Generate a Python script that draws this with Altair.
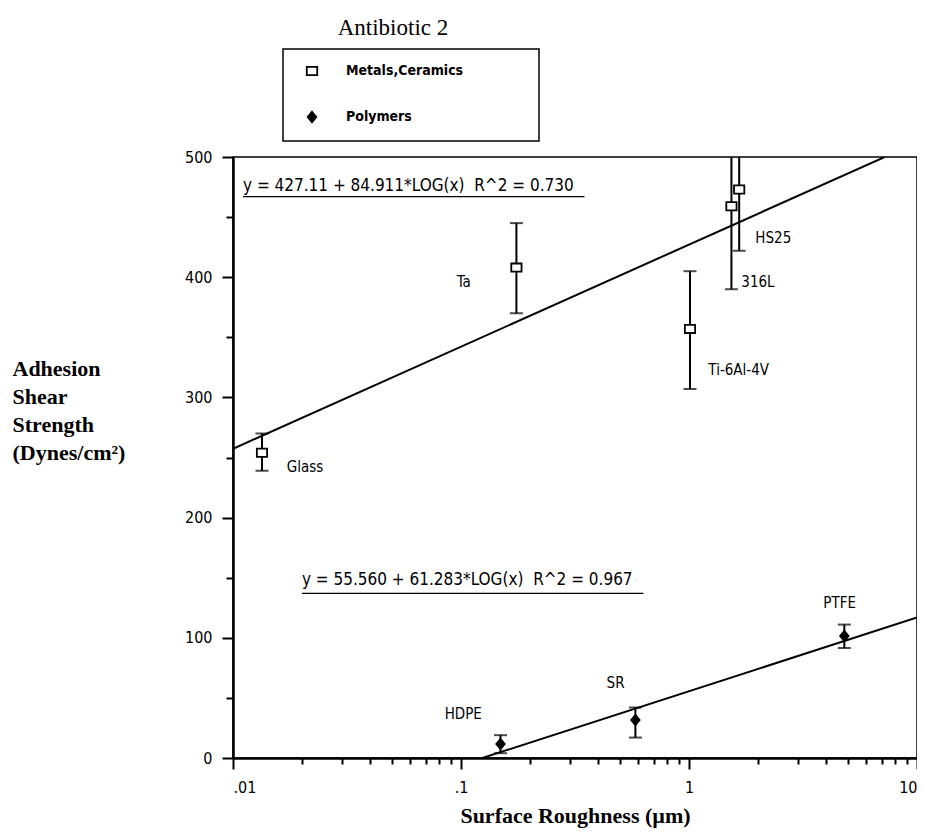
import altair as alt
import pandas as pd
import math

# ---------------- data ----------------
metal_names = ["Glass", "Ta", "Ti-6Al-4V", "316L", "HS25"]
metal_x = [0.0134, 0.175, 1.01, 1.535, 1.66]
metal_y = [254, 408, 357, 459, 473]
metal_lo = [239, 370, 307, 390, 422]
metal_hi = [270, 445, 405, 528, 524]
metal_label_x = [0.0172, 0.0958, 1.216, 1.696, 1.954]
metal_label_y = [242, 396, 323, 396, 433]

poly_names = ["HDPE", "SR", "PTFE"]
poly_x = [0.149, 0.582, 4.8]
poly_y = [11.6, 31.6, 101.5]
poly_lo = [4, 17, 91.5]
poly_hi = [19, 42, 111]
poly_label_x = [0.0848, 0.435, 3.88]
poly_label_y = [36.6, 62, 129]

groups = ["Metals,Ceramics", "Polymers"]

# regression equations shown on the chart: y = a + b*log10(x)
fit_a = [427.11, 55.560]
fit_b = [84.911, 61.283]
fit_text = ["y = 427.11 + 84.911*LOG(x)\u00a0\u00a0R^2 = 0.730",
            "y = 55.560 + 61.283*LOG(x)\u00a0\u00a0R^2 = 0.967"]
fit_x_start = [0.01, 0.1241]
fit_x_end = [7.21, 10]
eq_x = [0.01106, 0.02005]
eq_x_end = [0.348, 0.631]
eq_y = [476, 148]
eq_line_y = [467, 137]

x_major = [0.01, 0.1, 1, 10]
x_major_labels = [".01", ".1", "1", "10"]
x_minor = [0.02, 0.03, 0.04, 0.05, 0.06, 0.07, 0.08, 0.09,
           0.2, 0.3, 0.4, 0.5, 0.6, 0.7, 0.8, 0.9,
           2, 3, 4, 5, 6, 7, 8, 9]
y_ticks = [0, 50, 100, 150, 200, 250, 300, 350, 400, 450, 500]

title_text = "Antibiotic 2"

# ---------------- tables ----------------
pts = pd.DataFrame({
    "name": metal_names + poly_names,
    "x": metal_x + poly_x,
    "y": metal_y + poly_y,
    "lo": metal_lo + poly_lo,
    "hi": metal_hi + poly_hi,
    "lx": metal_label_x + poly_label_x,
    "ly": metal_label_y + poly_label_y,
    "group": [groups[0]] * len(metal_names) + [groups[1]] * len(poly_names),
})

fit_rows = []
for i in range(2):
    for xv in (fit_x_start[i], fit_x_end[i]):
        fit_rows.append({"fit": i, "x": xv, "y": fit_a[i] + fit_b[i] * math.log10(xv)})
fits = pd.DataFrame(fit_rows)

eqs = pd.DataFrame({"text": fit_text, "x": eq_x, "x2": eq_x_end, "y": eq_y, "yl": eq_line_y})

SANS = "Liberation Sans Narrow, DejaVu Sans Condensed, Arial Narrow, sans-serif"
SERIF = "Liberation Serif, Times New Roman, serif"

W, H = 684, 601

xscale = alt.Scale(type="log", domain=[0.01, 10], nice=False)
yscale = alt.Scale(domain=[0, 500], nice=False, zero=False)

major_test = " || ".join(f"abs(datum.value - {v}) < 1e-9" for v in x_major)
label_expr = "".join(f"abs(datum.value - {v}) < 1e-9 ? '{l}' : " for v, l in zip(x_major, x_major_labels)) + "''"

x_axis = alt.Axis(
    values=sorted(x_major + x_minor), labelExpr=label_expr, labelOverlap=False,
    tickSize={"condition": {"test": major_test, "value": 11}, "value": 6},
    tickWidth=2, domainWidth=2.5, domainColor="black", tickColor="black", grid=False,
    labelFont=SANS, labelFontSize=16, labelColor="black", labelPadding=10,
    title="Surface Roughness (µm)", titleFont=SERIF, titleFontSize=22,
    titleFontWeight="bold", titleColor="black", titlePadding=10,
)
y_axis = alt.Axis(
    values=y_ticks, labelExpr="datum.value % 100 == 0 ? datum.label : ''",
    labelOverlap=False,
    tickSize={"condition": {"test": "datum.value % 100 == 0", "value": 11}, "value": 7},
    tickWidth=2, domainWidth=2.5, domainColor="black", tickColor="black", grid=False,
    labelFont=SANS, labelFontSize=16, labelColor="black", labelPadding=10,
    title=["Adhesion", "Shear", "Strength", "(Dynes/cm²)"], titleAngle=0,
    titleAlign="left", titleBaseline="alphabetic", titleX=-221, titleY=218,
    titleLineHeight=28, titleFont=SERIF, titleFontSize=22, titleFontWeight="bold",
    titleColor="black",
)

X = alt.X("x:Q", scale=xscale, axis=x_axis)
Y = alt.Y("y:Q", scale=yscale, axis=y_axis)

lines = alt.Chart(fits).mark_line(color="black", strokeWidth=2, clip=True).encode(
    x=alt.X("x:Q", scale=xscale), y=alt.Y("y:Q", scale=yscale), detail="fit:N"
)

bars = alt.Chart(pts).mark_rule(color="black", strokeWidth=2, clip=True).encode(
    x=alt.X("x:Q", scale=xscale), y=alt.Y("lo:Q", scale=yscale), y2="hi:Q"
)
cap_lo = alt.Chart(pts).mark_tick(color="black", thickness=2, size=13, orient="horizontal", clip=True).encode(
    x=alt.X("x:Q", scale=xscale), y=alt.Y("lo:Q", scale=yscale)
)
cap_hi = alt.Chart(pts).mark_tick(color="black", thickness=2, size=13, orient="horizontal", clip=True).encode(
    x=alt.X("x:Q", scale=xscale), y=alt.Y("hi:Q", scale=yscale)
)

# an invisible one-dot title on the right widens the legend frame as in the reference
legend = alt.Legend(
    orient="none", legendX=50, legendY=-108, title=".", titleOrient="right",
    titlePadding=60, titleFontSize=2, titleOpacity=0,
    strokeColor="black", padding=15, rowPadding=29, symbolOffset=7, labelOffset=27,
    labelFont=SANS, labelFontSize=14, labelFontWeight="bold", labelColor="black",
    symbolStrokeColor="black", symbolStrokeWidth=1.8, symbolSize=110,
)
diamond = "M0,-1L0.82,0L0,1L-0.82,0Z"
rect = "M-1,-0.8L1,-0.8L1,0.8L-1,0.8Z"
points = alt.Chart(pts).mark_point(filled=True, stroke="black", strokeWidth=1.8, opacity=1, size=105).encode(
    x=X, y=Y,
    shape=alt.Shape("group:N", scale=alt.Scale(domain=groups, range=[rect, diamond]), legend=legend),
    color=alt.Color("group:N", scale=alt.Scale(domain=groups, range=["white", "black"]), legend=legend),
)

labels = alt.Chart(pts).mark_text(font=SANS, fontSize=15, align="left", baseline="middle", color="black").encode(
    x=alt.X("lx:Q", scale=xscale), y=alt.Y("ly:Q", scale=yscale), text="name:N"
)

eq_text = alt.Chart(eqs).mark_text(font=SANS, fontSize=17, align="left", baseline="middle", color="black").encode(
    x=alt.X("x:Q", scale=xscale), y=alt.Y("y:Q", scale=yscale), text="text:N"
)
eq_line = alt.Chart(eqs).mark_rule(color="black", strokeWidth=1.2).encode(
    x=alt.X("x:Q", scale=xscale), x2="x2:Q", y=alt.Y("yl:Q", scale=yscale)
)

title = alt.Chart(pd.DataFrame({"t": [title_text]})).mark_text(
    font=SERIF, fontSize=23, align="center", baseline="alphabetic", color="black"
).encode(text="t:N", x=alt.value(160), y=alt.value(-122))

chart = alt.layer(lines, bars, cap_lo, cap_hi, points, labels, eq_text, eq_line, title).properties(
    width=W, height=H,
    autosize=alt.AutoSizeParams(type="none"),
    padding={"left": 225, "top": 149, "right": 0, "bottom": 71},
).configure_view(stroke="black", strokeWidth=1.5).configure_legend(strokeWidth=1.5)

chart.save("out.html", embed_options={"renderer": "svg", "actions": False})
